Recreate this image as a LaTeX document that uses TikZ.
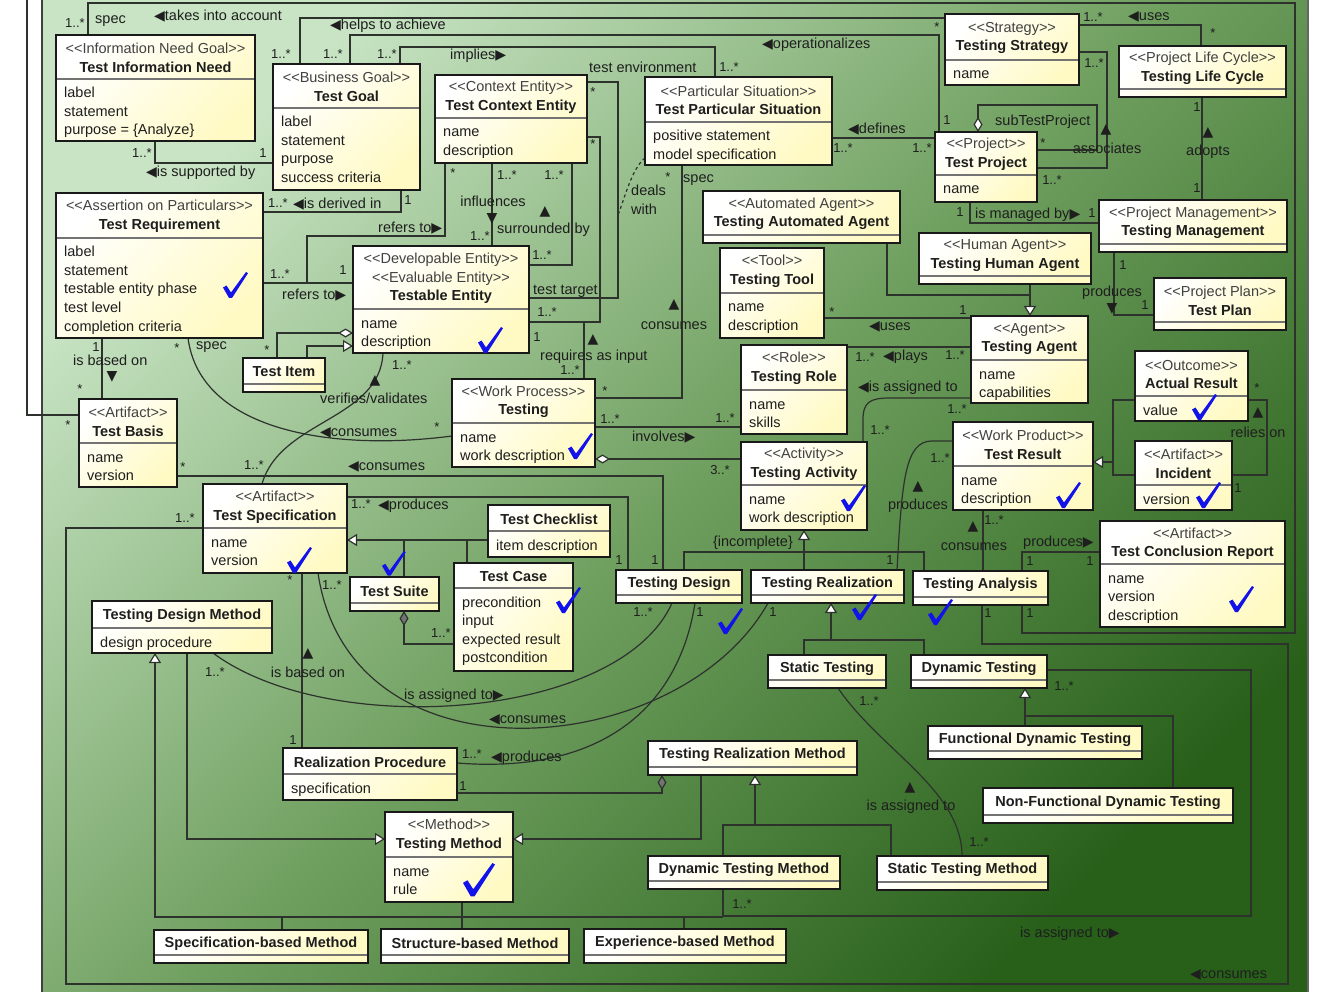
\documentclass[tikz,border=0pt]{standalone}
\usepackage{fontspec}
\usetikzlibrary{arrows.meta}
\newfontfamily\lsans{Liberation Sans}
\newfontfamily\dejavu{DejaVu Sans}
\pgfdeclarelayer{bg}
\pgfsetlayers{bg,main}
\definecolor{bgA}{RGB}{200,228,196}
\definecolor{bgB}{RGB}{112,160,96}
\definecolor{bgC}{RGB}{40,96,26}
\definecolor{boxyel}{RGB}{255,250,196}
\definecolor{txt}{RGB}{30,30,30}
\definecolor{stc}{RGB}{65,65,65}
\definecolor{cline}{RGB}{45,50,45}
\definecolor{chkblue}{RGB}{18,18,235}
\newcommand\stp[1]{{\color{stc}<\kern0pt<#1>\kern0pt>}}
\newcommand\trL{{\dejavu\fontsize{14}{14}\selectfont ◀}}
\newcommand\trR{{\dejavu\fontsize{14}{14}\selectfont ▶}}
\newcommand\trU{{\dejavu\fontsize{14}{14}\selectfont ▲}}
\newcommand\trD{{\dejavu\fontsize{14}{14}\selectfont ▼}}
\tikzset{
 box/.style={draw=black!90, line width=2pt, top color=white, bottom color=boxyel, shading angle=45, inner sep=0pt, outer sep=0pt, anchor=north west},
 sepl/.style={draw=black!55, line width=1.4pt},
 hdr/.style={align=center, inner sep=0pt, text=txt, font=\lsans\fontsize{14.5}{18.5}\selectfont},
 attr/.style={anchor=base west, inner sep=0pt, text=txt, font=\lsans\fontsize{14.5}{18.5}\selectfont},
 lbl/.style={inner sep=0pt, text=txt, font=\lsans\fontsize{14.5}{17}\selectfont},
 mult/.style={inner sep=0pt, text=txt, font=\lsans\fontsize{13}{15}\selectfont},
 conn/.style={draw=cline, line width=1.2pt},
 gen/.style={conn, -{Triangle[length=10pt, width=12pt, fill=white]}},
 agg/.style={conn, {Diamond[length=15pt, width=9pt, fill=white]}-},
 comp/.style={conn, {Diamond[length=15pt, width=9pt, fill=black!55]}-},
}
\newcommand\ubox[8]{%
 \node[box, minimum width={#4-#2}, minimum height={#5-#3}] (#1) at (#2,#3) {};
 \draw[sepl] ({#2+1},#6) -- ({#4-1},#6);
 \node[hdr] at ({(#2+#4)/2},{(#3+#6)/2+1}) {#7};
 \foreach \attrtxt [count=\i] in {#8} {\node[attr] at ({#2+8},{#6+19+18.5*(\i-1)}) {\attrtxt};}
}
\newcommand\ebox[6]{%
 \node[box, minimum width={#4-#2}, minimum height={#5-#3}] (#1) at (#2,#3) {};
 \draw[sepl] ({#2+1},{#5-8}) -- ({#4-1},{#5-8});
 \node[hdr] at ({(#2+#4)/2},{(#3+#5-8)/2+1}) {#6};
}
\newcommand\chk[3]{\fill[chkblue, shift={(#1,#2)}, scale=#3] (0,15.5) -- (3.5,13.5) -- (8,20.5) -- (23,0) -- (25,1.2) -- (9,26) -- (6,26) -- cycle;}
\begin{document}
\begin{tikzpicture}[x=1pt,y=-1pt]
\useasboundingbox (0,0) rectangle (1325,992);
\begin{pgfonlayer}{bg}
\fill[white] (0,0) rectangle (1325,992);
\shade[top color=bgA, bottom color=bgC, middle color=bgB, shading angle=45] (42,-2) rectangle (1308,994);
\draw[black!75, line width=1.5pt] (42,0) -- (42,992);
\draw[black!60, line width=1.5pt] (1308,0) -- (1308,992);
\end{pgfonlayer}

% ---------- classes ----------
\ubox{tin}{56}{35}{255}{141}{79}{\stp{Information Need Goal}\\\textbf{Test Information Need}}{label,statement,purpose = \{Analyze\}}
\ubox{tgoal}{273}{64}{420}{190}{108}{\stp{Business Goal}\\\textbf{Test Goal}}{label,statement,purpose,success criteria}
\ubox{tce}{435}{75}{587}{163}{118}{\stp{Context Entity}\\\textbf{Test Context Entity}}{name,description}
\ubox{tps}{645}{77}{832}{165}{122}{\stp{Particular Situation}\\\textbf{Test Particular Situation}}{positive statement,model specification}
\ubox{tstrat}{945}{14}{1079}{85}{60}{\stp{Strategy}\\\textbf{Testing Strategy}}{name}
\ebox{tlc}{1119}{46}{1286}{97}{\stp{Project Life Cycle}\\\textbf{Testing Life Cycle}}
\ubox{tproj}{935}{132}{1037}{202}{175}{\stp{Project}\\\textbf{Test Project}}{name}
\ebox{tmgmt}{1099}{200}{1287}{252}{\stp{Project Management}\\\textbf{Testing Management}}
\ebox{taa}{703}{191}{900}{243}{\stp{Automated Agent}\\\textbf{Testing Automated Agent}}
\ebox{tha}{919}{233}{1091}{284}{\stp{Human Agent}\\\textbf{Testing Human Agent}}
\ebox{tplan}{1154}{278}{1286}{330}{\stp{Project Plan}\\\textbf{Test Plan}}
\ubox{ttool}{720}{248}{824}{338}{293}{\stp{Tool}\\\textbf{Testing Tool}}{name,description}
\ubox{tagent}{971}{316}{1088}{403}{360}{\stp{Agent}\\\textbf{Testing Agent}}{name,capabilities}
\ubox{treq}{56}{193}{263}{338}{238}{\stp{Assertion on Particulars}\\\textbf{Test Requirement}}{label,statement,testable entity phase,test level,completion criteria}
\ubox{tent}{353}{246}{529}{353}{309}{\stp{Developable Entity}\\\stp{Evaluable Entity}\\\textbf{Testable Entity}}{name,description}
\ebox{titem}{243}{358}{325}{392}{\textbf{Test Item}}
\ubox{tbasis}{79}{399}{177}{487}{443}{\stp{Artifact}\\\textbf{Test Basis}}{name,version}
\ubox{testing}{452}{379}{595}{467}{423}{\stp{Work Process}\\\textbf{Testing}}{name,work description}
\ubox{trole}{741}{345}{847}{434}{390}{\stp{Role}\\\textbf{Testing Role}}{name,skills}
\ubox{tact}{741}{442}{867}{530}{485}{\stp{Activity}\\\textbf{Testing Activity}}{name,work description}
\ubox{tactual}{1135}{351}{1248}{421}{396}{\stp{Outcome}\\\textbf{Actual Result}}{value}
\ubox{tres}{953}{422}{1093}{510}{466}{\stp{Work Product}\\\textbf{Test Result}}{name,description}
\ubox{tinc}{1135}{441}{1232}{510}{485}{\stp{Artifact}\\\textbf{Incident}}{version}
\ubox{tcr}{1100}{521}{1285}{627}{564}{\stp{Artifact}\\\textbf{Test Conclusion Report}}{name,version,description}
\ubox{tspec}{203}{484}{347}{573}{528}{\stp{Artifact}\\\textbf{Test Specification}}{name,version}
\ubox{tcheck}{488}{505}{610}{557}{531}{\textbf{Test Checklist}}{item description}
\ebox{tsuite}{350}{577}{439}{611}{\textbf{Test Suite}}
\ubox{tcase}{454}{563}{573}{671}{588}{\textbf{Test Case}}{precondition,input,expected result,postcondition}
\ebox{tdesign}{616}{570}{742}{603}{\textbf{Testing Design}}
\ebox{treal}{751}{570}{904}{603}{\textbf{Testing Realization}}
\ebox{tanal}{913}{571}{1048}{605}{\textbf{Testing Analysis}}
\ubox{tdm}{92}{601}{272}{653}{628}{\textbf{Testing Design Method}}{design procedure}
\ebox{tstatic}{768}{655}{886}{688}{\textbf{Static Testing}}
\ebox{tdyn}{911}{655}{1047}{688}{\textbf{Dynamic Testing}}
\ebox{tfunc}{928}{726}{1142}{759}{\textbf{Functional Dynamic Testing}}
\ebox{tnonf}{983}{788}{1233}{823}{\textbf{Non-Functional Dynamic Testing}}
\ubox{trp}{283}{748}{457}{800}{774}{\textbf{Realization Procedure}}{specification}
\ebox{trm}{648}{741}{857}{775}{\textbf{Testing Realization Method}}
\ubox{tmeth}{385}{812}{513}{902}{857}{\stp{Method}\\\textbf{Testing Method}}{name,rule}
\ebox{tdtm}{648}{856}{840}{889}{\textbf{Dynamic Testing Method}}
\ebox{tstm}{877}{856}{1048}{890}{\textbf{Static Testing Method}}
\ebox{tspecm}{154}{930}{368}{963}{\textbf{Specification-based Method}}
\ebox{tstructm}{381}{929}{569}{963}{\textbf{Structure-based Method}}
\ebox{texpm}{584}{929}{786}{963}{\textbf{Experience-based Method}}

% ---------- junctions ----------
\coordinate (j1) at (307,283);
\coordinate (j2) at (618,215);
\coordinate (j3) at (1030,295);
\coordinate (j4) at (1113,462);
\coordinate (j5) at (831,640);
\coordinate (j6) at (1025,716);
\coordinate (j7) at (755,825);
\coordinate (j8) at (404,540);
\coordinate (j9) at (467,540);
\coordinate (j10) at (282,917);
\coordinate (j11) at (684,917);
\coordinate (j12) at (27,0);
\coordinate (j13) at (584,322);

% ---------- connectors ----------
\begin{pgfonlayer}{bg}
\draw[conn] (tanal.south -| 1022,0) -- (1022,633) -- (1295,633) -- (1295,3) -- (88,3) -- (tin.north -| 88,0);
\draw[conn] (tgoal.north -| 300,0) -- (300,18) -- (tstrat.west |- 0,18);
\draw[conn] (tgoal.north -| 350,0) -- (350,35) -- (939,35) -- (tproj.north -| 939,0);
\draw[conn] (tgoal.north -| 400,0) -- (400,47) -- (715,47) -- (tps.north -| 715,0);
\draw[conn] (tin.south -| 155,0) -- (155,163) -- (tgoal.west |- 0,163);
\draw[conn] (treq.east |- 0,212) -- (401,212) -- (tgoal.south -| 401,0);
\draw[conn] (treq.east |- 0,283) -- (tent.west |- 0,283);
\draw[conn] (j1) -- (307,236) -- (445,236) -- (tce.south -| 445,0);
\draw[conn] (tce.south -| 492,0) -- (tent.north -| 492,0);
\draw[conn] (tce.south -| 572,0) -- (572,265) -- (tent.east |- 0,265);
\draw[conn] (tce.east |- 0,82) -- (618,82) -- (618,298) -- (tent.east |- 0,298);
\draw[conn] (tce.east |- 0,137) -- (600,137) -- (600,322) -- (tent.east |- 0,322);
\draw[conn] (j13) -- (testing.north -| 584,0);
\draw[conn, dashed] (tps.west |- 0,158) .. controls (632,168) and (624,200) .. (j2);
\draw[conn] (tps.south -| 682,0) -- (682,398) -- (testing.east |- 0,398);
\draw[conn] (tps.east |- 0,138) -- (tproj.west |- 0,138);
\draw[agg] (tproj.north -| 978,0) -- (978,105) -- (1097,105) -- (1097,150) -- (tproj.east |- 0,150);
\draw[conn] (tproj.east |- 0,168) -- (1107,168) -- (1107,52) -- (tstrat.east |- 0,52);
\draw[conn] (tstrat.east |- 0,25) -- (1201,25) -- (tlc.north -| 1201,0);
\draw[conn] (tlc.south -| 1202,0) -- (tmgmt.north -| 1202,0);
\draw[conn] (tproj.south -| 970,0) -- (970,223) -- (tmgmt.west |- 0,223);
\draw[conn] (tmgmt.south -| 1114,0) -- (1114,315) -- (tplan.west |- 0,315);
\draw[conn] (taa.south -| 887,0) -- (887,295) -- (j3);
\draw[gen] (tha.south -| 1030,0) -- (tagent.north -| 1030,0);
\draw[conn] (ttool.east |- 0,318) -- (tagent.west |- 0,318);
\draw[conn] (trole.east |- 0,347) -- (tagent.west |- 0,347);
\draw[conn] (tact.north -| 863,0) -- (863,420) .. controls (863,402) and (870,398) .. (890,398) -- (tagent.west |- 0,398);
\draw[conn] (treal.north -| 897,0) .. controls (902,480) and (905,441) .. (932,441) -- (tres.west |- 0,441);
\draw[conn] (tres.south -| 983,0) -- (tanal.north -| 983,0);
\draw[conn] (tactual.west |- 0,400) -- (1113,400) -- (1113,475) -- (tinc.west |- 0,475);
\draw[gen] (j4) -- (tres.east |- 0,462);
\draw[conn] (tactual.east |- 0,400) -- (1267,400) -- (1267,475) -- (tinc.east |- 0,475);
\draw[conn] (testing.east |- 0,427) -- (trole.west |- 0,427);
\draw[agg] (testing.east |- 0,459) -- (tact.west |- 0,459);
\draw[gen] (treal.north -| 804,0) -- (tact.south -| 804,0);
\draw[conn] (tdesign.north -| 684,0) -- (684,552) -- (924,552) -- (tanal.north -| 924,0);
\draw[gen] (j5) -- (treal.south -| 831,0);
\draw[conn] (tstatic.north -| 804,0) -- (804,640) -- (924,640) -- (tdyn.north -| 924,0);
\draw[gen] (tfunc.north -| 1025,0) -- (tdyn.south -| 1025,0);
\draw[conn] (j6) -- (1173,716) -- (tnonf.north -| 1173,0);
\draw[conn] (tdyn.east |- 0,670) -- (1251,670) -- (1251,916) -- (723,916) -- (tdtm.south -| 723,0);
\draw[conn] (tstatic.south -| 838,0) .. controls (880,750) and (962,790) .. (tstm.north -| 962,0);
\draw[gen] (j7) -- (trm.south -| 755,0);
\draw[conn] (tdtm.north -| 723,0) -- (723,825) -- (891,825) -- (tstm.north -| 891,0);
\draw[gen] (trm.south -| 701,0) -- (701,839) -- (tmeth.east |- 0,839);
\draw[gen] (tdm.south -| 187,0) -- (187,839) -- (tmeth.west |- 0,839);
\draw[gen] (723,917) -- (155,917) -- (tdm.south -| 155,0);
\draw[conn] (tspecm.north -| 282,0) -- (j10);
\draw[conn] (tstructm.north -| 462,0) -- (tmeth.south -| 462,0);
\draw[conn] (texpm.north -| 684,0) -- (j11);
\draw[conn] (tspec.south -| 302,0) -- (trp.north -| 302,0);
\draw[comp] (trm.south -| 662,0) -- (662,793) -- (trp.east |- 0,793);
\draw[conn] (trp.east |- 0,763) .. controls (610,775) and (680,700) .. (tdesign.south -| 695,0);
\draw[conn] (tdm.south -| 213,0) .. controls (330,740) and (620,720) .. (tdesign.south -| 672,0);
\draw[conn] (tspec.south -| 318,0) .. controls (350,790) and (680,760) .. (treal.south -| 768,0);
\draw[conn] (tbasis.east |- 0,476) -- (663,476) -- (tdesign.north -| 663,0);
\draw[conn] (tspec.east |- 0,497) -- (628,497) -- (tdesign.north -| 628,0);
\draw[gen] (tcheck.west |- 0,540) -- (tspec.east |- 0,540);
\draw[conn] (tsuite.north -| 404,0) -- (j8);
\draw[conn] (tcase.north -| 467,0) -- (j9);
\draw[comp] (tsuite.south -| 404,0) -- (404,644) -- (tcase.west |- 0,644);
\draw[conn] (tspec.north -| 262,0) .. controls (280,420) and (380,420) .. (tent.south -| 383,0);
\draw[conn] (treq.south -| 188,0) .. controls (200,430) and (330,452) .. (testing.west |- 0,436);
\draw[gen] (titem.north -| 307,0) -- (307,346) -- (tent.west |- 0,346);
\draw[agg] (tent.west |- 0,333) -- (277,333) -- (titem.north -| 277,0);
\draw[conn] (treq.south -| 102,0) -- (tbasis.north -| 102,0);
\draw[conn] (tbasis.west |- 0,415) -- (27,415) -- (j12);
\draw[conn] (tanal.south -| 982,0) -- (982,644) -- (1288,644) -- (1288,984) -- (66,984) -- (66,528) -- (tspec.west |- 0,528);
\draw[conn] (tanal.north -| 1022,0) -- (1022,552) -- (tcr.west |- 0,552);
\end{pgfonlayer}

% ---------- labels ----------
\node[mult] at (75,23) {1..*};
\node[lbl, anchor=west] at (95,21) {spec};
\node[lbl, anchor=west] at (154,16) {\trL takes into account};
\node[mult] at (281,54) {1..*};
\node[lbl, anchor=west] at (330,26) {\trL helps to achieve};
\node[mult] at (937,27) {*};
\node[mult] at (333,54) {1..*};
\node[lbl, anchor=west] at (762,45) {\trL operationalizes};
\node[mult] at (947,120) {1};
\node[mult] at (387,54) {1..*};
\node[lbl, anchor=west] at (450,56) {implies\trR};
\node[mult] at (729,67) {1..*};
\node[lbl, anchor=west] at (589,67) {test environment};
\node[mult] at (593,92) {*};
\node[mult] at (593,144) {*};
\node[mult] at (142,153) {1..*};
\node[mult] at (263,153) {1};
\node[lbl, anchor=west] at (146,173) {\trL is supported by};
\node[mult] at (278,203) {1..*};
\node[lbl, anchor=west] at (293,204) {\trL is derived in};
\node[mult] at (408,200) {1};
\node[mult] at (280,274) {1..*};
\node[lbl, anchor=west] at (282,295) {refers to\trR};
\node[mult] at (343,270) {1};
\node[lbl, anchor=west] at (378,228) {refers to\trR};
\node[mult] at (453,173) {*};
\node[mult] at (507,175) {1..*};
\node[lbl] at (493,201) {influences};
\node[lbl] at (492,219) {\trD};
\node[mult] at (480,236) {1..*};
\node[mult] at (554,175) {1..*};
\node[lbl] at (545,212) {\trU};
\node[lbl, anchor=west] at (497,230) {surrounded by};
\node[mult] at (542,255) {1..*};
\node[lbl, anchor=west] at (533,291) {test target};
\node[mult] at (547,312) {1..*};
\node[lbl, anchor=west] at (631,190) {deals};
\node[lbl, anchor=west] at (631,209) {with};
\node[mult] at (668,177) {*};
\node[lbl, anchor=west] at (683,180) {spec};
\node[lbl] at (674,305) {\trU};
\node[lbl] at (674,326) {consumes};
\node[mult] at (537,337) {1};
\node[lbl] at (593,340) {\trU};
\node[lbl, anchor=west] at (540,357) {requires as input};
\node[mult] at (570,370) {1..*};
\node[mult] at (605,391) {*};
\node[lbl, anchor=west] at (848,129) {\trL defines};
\node[mult] at (843,148) {1..*};
\node[mult] at (922,148) {1..*};
\node[lbl, anchor=west] at (995,122) {subTestProject};
\node[mult] at (1043,143) {*};
\node[lbl] at (1106,130) {\trU};
\node[lbl] at (1107,148) {associates};
\node[mult] at (1094,63) {1..*};
\node[mult] at (1052,180) {1..*};
\node[mult] at (1093,17) {1..*};
\node[lbl, anchor=west] at (1128,17) {\trL uses};
\node[mult] at (1213,33) {*};
\node[mult] at (1197,107) {1};
\node[lbl] at (1208,133) {\trU};
\node[lbl] at (1208,152) {adopts};
\node[mult] at (1197,188) {1};
\node[mult] at (960,212) {1};
\node[lbl, anchor=west] at (975,215) {is managed by\trR};
\node[mult] at (1092,213) {1};
\node[mult] at (1123,265) {1};
\node[lbl] at (1112,293) {produces};
\node[lbl] at (1112,309) {\trD};
\node[mult] at (1145,305) {1};
\node[mult] at (832,312) {*};
\node[lbl, anchor=west] at (869,327) {\trL uses};
\node[mult] at (963,310) {1};
\node[mult] at (865,357) {1..*};
\node[lbl, anchor=west] at (883,357) {\trL plays};
\node[mult] at (955,355) {1..*};
\node[mult] at (880,430) {1..*};
\node[lbl, anchor=west] at (858,388) {\trL is assigned to};
\node[mult] at (957,409) {1..*};
\node[mult] at (890,560) {1};
\node[mult] at (940,458) {1..*};
\node[lbl] at (918,487) {\trU};
\node[lbl] at (918,506) {produces};
\node[mult] at (994,520) {1..*};
\node[lbl] at (973,527) {\trU};
\node[lbl] at (974,547) {consumes};
\node[mult] at (1257,388) {*};
\node[lbl] at (1258,413) {\trU};
\node[lbl] at (1258,432) {relies on};
\node[mult] at (1238,488) {1};
\node[mult] at (610,419) {1..*};
\node[lbl, anchor=west] at (632,437) {involves\trR};
\node[mult] at (725,418) {1..*};
\node[mult] at (720,470) {3..*};
\node[lbl] at (753,543) {\{incomplete\}};
\node[mult] at (1064,686) {1..*};
\node[lbl, anchor=west] at (1020,934) {is assigned to\trR};
\node[mult] at (742,904) {1..*};
\node[mult] at (869,701) {1..*};
\node[lbl] at (910,788) {\trU};
\node[lbl] at (911,807) {is assigned to};
\node[mult] at (979,842) {1..*};
\node[mult] at (293,740) {1};
\node[lbl] at (308,654) {\trU};
\node[lbl] at (308,672) {is based on};
\node[mult] at (290,580) {*};
\node[mult] at (332,585) {1..*};
\node[mult] at (463,786) {1};
\node[mult] at (472,754) {1..*};
\node[lbl, anchor=west] at (491,758) {\trL produces};
\node[mult] at (215,672) {1..*};
\node[lbl, anchor=west] at (404,696) {is assigned to\trR};
\node[mult] at (643,612) {1..*};
\node[mult] at (700,612) {1};
\node[mult] at (773,612) {1};
\node[lbl, anchor=west] at (489,720) {\trL consumes};
\node[mult] at (183,467) {*};
\node[mult] at (254,465) {1..*};
\node[lbl, anchor=west] at (348,467) {\trL consumes};
\node[mult] at (655,560) {1};
\node[mult] at (361,504) {1..*};
\node[lbl, anchor=west] at (378,506) {\trL produces};
\node[mult] at (619,560) {1};
\node[mult] at (441,633) {1..*};
\node[mult] at (402,365) {1..*};
\node[lbl] at (375,381) {\trU};
\node[lbl, anchor=west] at (320,398) {verifies/validates};
\node[mult] at (177,348) {*};
\node[lbl, anchor=west] at (196,347) {spec};
\node[lbl, anchor=west] at (320,433) {\trL consumes};
\node[mult] at (437,427) {*};
\node[mult] at (267,350) {*};
\node[mult] at (96,347) {1};
\node[lbl, anchor=west] at (73,360) {is based on};
\node[lbl] at (112,377) {\trD};
\node[mult] at (80,389) {*};
\node[mult] at (68,425) {*};
\node[mult] at (988,613) {1};
\node[mult] at (185,518) {1..*};
\node[lbl, anchor=west] at (1190,975) {\trL consumes};
\node[mult] at (1030,561) {1};
\node[lbl, anchor=west] at (1023,543) {produces\trR};
\node[mult] at (1090,561) {1};
\node[mult] at (1030,613) {1};

% ---------- check marks ----------
\chk{223}{272}{1}
\chk{478}{327}{1}
\chk{568}{433}{1}
\chk{287}{547}{1}
\chk{382}{551}{0.95}
\chk{556}{587}{1}
\chk{841}{485}{1}
\chk{718}{608}{1}
\chk{852}{594}{1}
\chk{928}{599}{1}
\chk{1192}{394}{1}
\chk{1056}{482}{1}
\chk{1196}{482}{1}
\chk{1229}{586}{1}
\chk{463}{863}{1.28}
\end{tikzpicture}
\end{document}
